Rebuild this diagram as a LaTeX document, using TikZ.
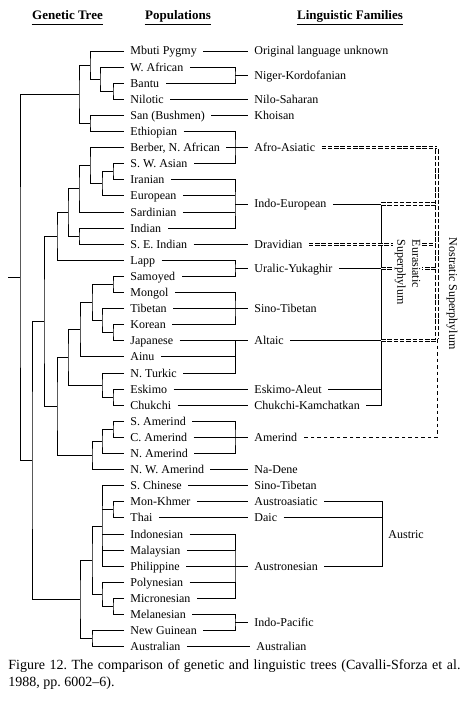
\documentclass[tikz,border=0pt]{standalone}
\usepackage{fontspec}
\setmainfont{Liberation Serif}
\usepackage{tikz}
\begin{document}
\frenchspacing
\begin{tikzpicture}[x=1pt,y=-1pt,line width=0.9pt,
  pop/.style={anchor=west,inner xsep=6pt,inner ysep=0pt,text height=8pt,text depth=0pt,font=\fontsize{12}{14}\selectfont},
  fam/.style={pop},
  hdr/.style={anchor=base,inner sep=0pt,text depth=3.5pt,font=\fontsize{13}{15}\selectfont\bfseries},
  rot/.style={rotate=-90,anchor=west,inner sep=1.5pt,font=\fontsize{12}{15}\selectfont},
  nostdouble/.style={line width=3.3pt,dash pattern=on 4.5pt off 1.8pt,postaction={draw=white,line width=1.3pt,solid}},
  nostsingle/.style={line width=0.8pt,dash pattern=on 3.5pt off 3pt}]
\useasboundingbox (0,0) rectangle (467,722);

\node[hdr] (hgen) at (67.5,20) {Genetic Tree};
\node[hdr] (hpop) at (178,20) {Populations};
\node[hdr] (hfam) at (350,20) {Linguistic Families};
\draw[line width=0.8pt] (hgen.south west) -- (hgen.south east);
\draw[line width=0.8pt] (hpop.south west) -- (hpop.south east);
\draw[line width=0.8pt] (hfam.south west) -- (hfam.south east);

% populations
\node[pop] (mbuti) at (124,51) {Mbuti Pygmy};
\node[pop] (wafr) at (124,67.1) {W. African};
\node[pop] (bantu) at (124,83.2) {Bantu};
\node[pop] (nilotic) at (124,99.3) {Nilotic};
\node[pop] (san) at (124,115.4) {San (Bushmen)};
\node[pop] (ethiop) at (124,131.5) {Ethiopian};
\node[pop] (berber) at (124,147.6) {Berber, N. African};
\node[pop] (swasia) at (124,163.7) {S. W. Asian};
\node[pop] (iran) at (124,179.8) {Iranian};
\node[pop] (europe) at (124,195.9) {European};
\node[pop] (sardin) at (124,212) {Sardinian};
\node[pop] (indian) at (124,228.1) {Indian};
\node[pop] (seindian) at (124,244.2) {S. E. Indian};
\node[pop] (lapp) at (124,260.3) {Lapp};
\node[pop] (samoyed) at (124,276.4) {Samoyed};
\node[pop] (mongol) at (124,292.5) {Mongol};
\node[pop] (tibet) at (124,308.6) {Tibetan};
\node[pop] (korea) at (124,324.7) {Korean};
\node[pop] (japan) at (124,340.8) {Japanese};
\node[pop] (ainu) at (124,356.9) {Ainu};
\node[pop] (nturk) at (124,373) {N. Turkic};
\node[pop] (eskimo) at (124,389.1) {Eskimo};
\node[pop] (chukchi) at (124,405.2) {Chukchi};
\node[pop] (samer) at (124,421.3) {S. Amerind};
\node[pop] (camer) at (124,437.4) {C. Amerind};
\node[pop] (namer) at (124,453.5) {N. Amerind};
\node[pop] (nwamer) at (124,469.6) {N. W. Amerind};
\node[pop] (schina) at (124,485.7) {S. Chinese};
\node[pop] (monkhm) at (124,501.8) {Mon-Khmer};
\node[pop] (thai) at (124,517.9) {Thai};
\node[pop] (indones) at (124,534) {Indonesian};
\node[pop] (malay) at (124,550.1) {Malaysian};
\node[pop] (philip) at (124,566.2) {Philippine};
\node[pop] (polyn) at (124,582.3) {Polynesian};
\node[pop] (micron) at (124,598.4) {Micronesian};
\node[pop] (melan) at (124,614.5) {Melanesian};
\node[pop] (nguin) at (124,630.6) {New Guinean};
\node[pop] (austral) at (124,646.7) {Australian};

% linguistic families
\node[fam] (fOrig) at (248,51) {Original language unknown};
\node[fam] (fNiger) at (248,75.15) {Niger-Kordofanian};
\node[fam] (fNilo) at (248,99.3) {Nilo-Saharan};
\node[fam] (fKhoi) at (248,115.4) {Khoisan};
\node[fam] (fAfro) at (248,147.6) {Afro-Asiatic};
\node[fam] (fIE) at (248,203.95) {Indo-European};
\node[fam] (fDrav) at (248,244.2) {Dravidian};
\node[fam] (fUral) at (248,268.35) {Uralic-Yukaghir};
\node[fam] (fSino) at (248,308.6) {Sino-Tibetan};
\node[fam] (fAlt) at (248,340.8) {Altaic};
\node[fam] (fEsk) at (248,389.1) {Eskimo-Aleut};
\node[fam] (fChuk) at (248,405.2) {Chukchi-Kamchatkan};
\node[fam] (fAmer) at (248,437.4) {Amerind};
\node[fam] (fNaD) at (248,469.6) {Na-Dene};
\node[fam] (fSinoB) at (248,485.7) {Sino-Tibetan};
\node[fam] (fAuAs) at (248,501.8) {Austroasiatic};
\node[fam] (fDaic) at (248,517.9) {Daic};
\node[fam] (fAustro) at (248,566.2) {Austronesian};
\node[fam] (fIndoP) at (248,622.55) {Indo-Pacific};
\node[fam] (fAusl) at (250,646.7) {Australian};
\node[fam] (fAustric) at (382,534) {Austric};

% genetic tree
\coordinate (a1) at (113,91.25);
\coordinate (a2) at (100,79.2);
\coordinate (a3) at (90,65.1);
\coordinate (a4) at (90,123.45);
\coordinate (a5) at (79,94.3);
\coordinate (b1) at (113,171.75);
\coordinate (b2) at (102,183.8);
\coordinate (b3) at (90,165.7);
\coordinate (b4) at (79,188.85);
\coordinate (b5) at (79,236.15);
\coordinate (b6) at (68,212.5);
\coordinate (b7) at (57,236.4);
\coordinate (c1) at (113,284.45);
\coordinate (c2) at (113,332.75);
\coordinate (c3) at (102,320.7);
\coordinate (c4) at (92,302.6);
\coordinate (c5) at (80,329.75);
\coordinate (c6) at (113,397.15);
\coordinate (c7) at (102,385.1);
\coordinate (c8) at (68,357.4);
\coordinate (d1) at (113,429.35);
\coordinate (d2) at (102,441.4);
\coordinate (d3) at (92,455.5);
\coordinate (d4) at (57,406.45);
\coordinate (d5) at (44,321.4);
\coordinate (e1) at (113,509.85);
\coordinate (e2) at (102,525.95);
\coordinate (e3) at (113,606.45);
\coordinate (e4) at (102,594.4);
\coordinate (e5) at (92,560.2);
\coordinate (e6) at (92,638.65);
\coordinate (e7) at (80,599.4);
\coordinate (f1) at (32,460.4);
\coordinate (root) at (20,277.35);
\coordinate (rstub) at (8,277.35);

\draw (bantu.west) -| (a1) |- (nilotic.west);
\draw (wafr.west) -| (a2) |- (a1);
\draw (mbuti.west) -| (a3) |- (a2);
\draw (san.west) -| (a4) |- (ethiop.west);
\draw (a3) -| (a5) |- (a4);
\draw (swasia.west) -| (b1) |- (iran.west);
\draw (b1) -| (b2) |- (europe.west);
\draw (berber.west) -| (b3) |- (b2);
\draw (b3) -| (b4) |- (sardin.west);
\draw (indian.west) -| (b5) |- (seindian.west);
\draw (b4) -| (b6) |- (b5);
\draw (b6) -| (b7) |- (lapp.west);
\draw (samoyed.west) -| (c1) |- (mongol.west);
\draw (korea.west) -| (c2) |- (japan.west);
\draw (tibet.west) -| (c3) |- (c2);
\draw (c1) -| (c4) |- (c3);
\draw (c4) -| (c5) |- (ainu.west);
\draw (eskimo.west) -| (c6) |- (chukchi.west);
\draw (nturk.west) -| (c7) |- (c6);
\draw (c5) -| (c8) |- (c7);
\draw (samer.west) -| (d1) |- (camer.west);
\draw (d1) -| (d2) |- (namer.west);
\draw (d2) -| (d3) |- (nwamer.west);
\draw (c8) -| (d4) |- (d3);
\draw (b7) -| (d5) |- (d4);
\draw (monkhm.west) -| (e1) |- (thai.west);
\draw (schina.west) -| (e2) |- (philip.west);
\draw (e1) -- (e1 -| e2);
\draw (indones.west) -- (indones.west -| e2);
\draw (malay.west) -- (malay.west -| e2);
\draw (micron.west) -| (e3) |- (melan.west);
\draw (polyn.west) -| (e4) |- (e3);
\draw (e2) -| (e5) |- (e4);
\draw (nguin.west) -| (e6) |- (austral.west);
\draw (e5) -| (e7) |- (e6);
\draw (d5) -| (f1) |- (e7);
\draw (a5) -| (root) |- (f1);
\draw (rstub) -- (root);

% populations to families
\coordinate (nk) at (235,75.15);
\coordinate (aa) at (235,147.6);
\coordinate (ie) at (235,203.95);
\coordinate (ur) at (235,268.35);
\coordinate (st) at (235,308.6);
\coordinate (al) at (235,340.8);
\coordinate (am) at (235,437.4);
\coordinate (an) at (235,566.2);
\coordinate (ip) at (235,622.55);

\draw (mbuti.east) -- (fOrig.west);
\draw (wafr.east) -| (nk) |- (bantu.east);
\draw (nk) -- (fNiger.west);
\draw (nilotic.east) -- (fNilo.west);
\draw (san.east) -- (fKhoi.west);
\draw (ethiop.east) -| (aa) |- (swasia.east);
\draw (berber.east) -- (fAfro.west);
\draw (iran.east) -| (ie) |- (indian.east);
\draw (europe.east) -- (europe.east -| ie);
\draw (sardin.east) -- (sardin.east -| ie);
\draw (ie) -- (fIE.west);
\draw (seindian.east) -- (fDrav.west);
\draw (lapp.east) -| (ur) |- (samoyed.east);
\draw (ur) -- (fUral.west);
\draw (mongol.east) -| (st) |- (korea.east);
\draw (tibet.east) -- (fSino.west);
\draw (nturk.east) -| (al);
\draw (ainu.east) -- (ainu.east -| al);
\draw (japan.east) -- (fAlt.west);
\draw (eskimo.east) -- (fEsk.west);
\draw (chukchi.east) -- (fChuk.west);
\draw (samer.east) -| (am) |- (namer.east);
\draw (camer.east) -- (fAmer.west);
\draw (nwamer.east) -- (fNaD.west);
\draw (schina.east) -- (fSinoB.west);
\draw (monkhm.east) -- (fAuAs.west);
\draw (thai.east) -- (fDaic.west);
\draw (indones.east) -| (an) |- (micron.east);
\draw (malay.east) -- (malay.east -| an);
\draw (polyn.east) -- (polyn.east -| an);
\draw (philip.east) -- (fAustro.west);
\draw (melan.east) -| (ip) |- (nguin.east);
\draw (ip) -- (fIndoP.west);
\draw (austral.east) -- (fAusl.west);

% superphyla
\coordinate (eurtop) at (381,203.95);
\coordinate (eurbot) at (381,405.2);
\coordinate (austop) at (382,501.8);
\coordinate (ausbot) at (382,566.2);
\coordinate (nosttop) at (437,147.6);
\coordinate (nostmid) at (437,340.8);
\coordinate (nostbot) at (437,437.4);

\draw (fIE.east) -- (eurtop) -- (eurbot) -- (fChuk.east);
\draw (fUral.east) -- (fUral.east -| eurtop);
\draw (fAlt.east) -- (fAlt.east -| eurtop);
\draw (fEsk.east) -- (fEsk.east -| eurtop);
\draw (fAuAs.east) -- (austop) -- (ausbot) -- (fAustro.east);
\draw (fDaic.east) -- (fDaic.east -| austop);

\draw[nostdouble] (fAfro.east) -- (nosttop);
\draw[nostdouble] (eurtop) -- (eurtop -| nosttop);
\draw[nostdouble] (fDrav.east) -- (fDrav.east -| nosttop);
\draw[nostdouble] (fUral.east -| eurtop) -- (fUral.east -| nosttop);
\draw[nostdouble] (fAlt.east -| eurtop) -- (nostmid);
\draw[nostdouble] ([yshift=-1.65pt]nosttop) -- ([yshift=1.65pt]nostmid);
\draw[nostsingle] ([yshift=1.65pt]nostmid) -- (nostbot) -- (fAmer.east);

\node[rot,align=left,fill=white] (leura) at (407.5,238) {Eurasiatic\\Superphylum};
\node[rot] (lnost) at (452,236) {Nostratic Superphylum};

\node[anchor=north west,inner sep=0pt,text width=452pt,align=justify,font=\fontsize{14}{17}\selectfont] (capt) at (8,659.4)
  {Figure 12. The comparison of genetic and linguistic trees (Cavalli-Sforza et al.\linebreak 1988, pp. 6002--6).};
\end{tikzpicture}
\end{document}
